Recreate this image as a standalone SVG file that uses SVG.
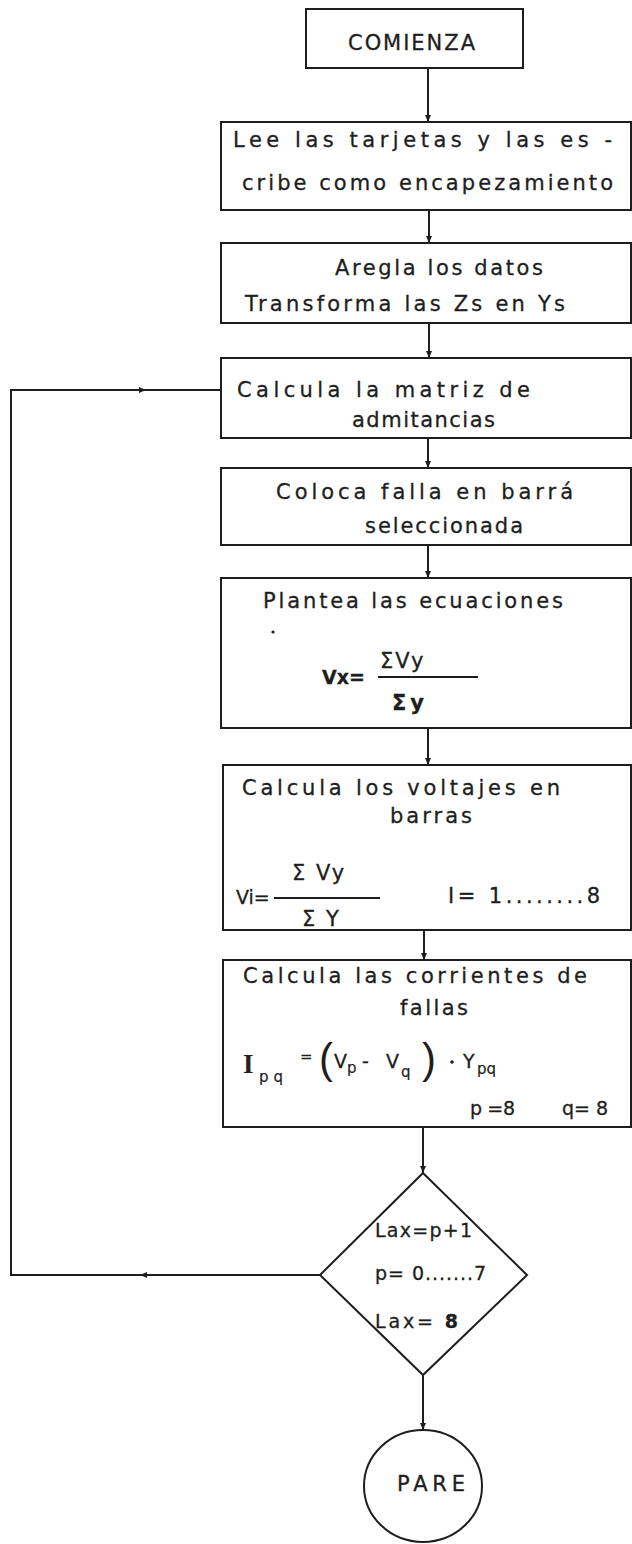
<svg xmlns="http://www.w3.org/2000/svg" width="632" height="1544" viewBox="0 0 632 1544">
<style>
.box{fill:none;stroke:#1e1e1e;stroke-width:2}
.ln{fill:none;stroke:#1e1e1e;stroke-width:2}
.t{font-family:"DejaVu Sans","Liberation Sans",sans-serif;font-size:21px;fill:#1e1e1e;stroke:#1e1e1e;stroke-width:0.3}
.m{font-family:"DejaVu Sans","Liberation Sans",sans-serif;font-size:19px;fill:#1e1e1e;stroke:#1e1e1e;stroke-width:0.3}
.s{font-family:"DejaVu Sans","Liberation Sans",sans-serif;font-size:15px;fill:#1e1e1e;stroke:#1e1e1e;stroke-width:0.2}
.big{font-family:"Liberation Serif","DejaVu Serif",serif;font-size:27px;font-weight:bold;fill:#1e1e1e}
.par{font-family:"Liberation Sans","DejaVu Sans",sans-serif;font-size:42px;fill:#1e1e1e}
</style>
<defs>
<marker id="ah" markerWidth="8" markerHeight="8" refX="7" refY="4" orient="auto" markerUnits="userSpaceOnUse">
<path d="M0,1 L7,4 L0,7 Z" fill="#1e1e1e"/>
</marker>
</defs>
<rect width="632" height="1544" fill="#ffffff"/>
<g id="connectors">
<line class="ln" x1="428" y1="68" x2="428" y2="122" marker-end="url(#ah)"/>
<line class="ln" x1="429" y1="210" x2="429" y2="243" marker-end="url(#ah)"/>
<line class="ln" x1="429" y1="323" x2="429" y2="358" marker-end="url(#ah)"/>
<line class="ln" x1="428" y1="438" x2="428" y2="468" marker-end="url(#ah)"/>
<line class="ln" x1="428" y1="545" x2="428" y2="578" marker-end="url(#ah)"/>
<line class="ln" x1="428" y1="728" x2="428" y2="765" marker-end="url(#ah)"/>
<line class="ln" x1="424" y1="930" x2="424" y2="960" marker-end="url(#ah)"/>
<line class="ln" x1="423" y1="1127" x2="423" y2="1173" marker-end="url(#ah)"/>
<line class="ln" x1="423" y1="1375" x2="423" y2="1430" marker-end="url(#ah)"/>
<path class="ln" d="M320,1275 L140,1275" marker-end="url(#ah)"/>
<path class="ln" d="M142,1275 L11,1275 L11,390 L146,390" marker-end="url(#ah)"/>
<path class="ln" d="M144,390 L221,390"/>
</g>
<g id="n-comienza">
<rect class="box" x="306" y="9" width="217" height="59"/>
<text class="t" x="348" y="50" textLength="127" lengthAdjust="spacing">COMIENZA</text>
</g>
<g id="n-lee">
<rect class="box" x="221" y="122" width="410" height="88"/>
<text class="t" x="233" y="147" textLength="379" lengthAdjust="spacing">Lee las tarjetas y las es -</text>
<text class="t" x="242" y="190" textLength="371" lengthAdjust="spacing">cribe como encapezamiento</text>
</g>
<g id="n-aregla">
<rect class="box" x="221" y="243" width="410" height="80"/>
<text class="t" x="335" y="275" textLength="208" lengthAdjust="spacing">Aregla los datos</text>
<text class="t" x="245" y="311" textLength="320" lengthAdjust="spacing">Transforma las Zs en Ys</text>
</g>
<g id="n-matriz">
<rect class="box" x="221" y="358" width="410" height="80"/>
<text class="t" x="237" y="397" textLength="293" lengthAdjust="spacing">Calcula la matriz de</text>
<text class="t" x="352" y="427" textLength="143" lengthAdjust="spacing">admitancias</text>
</g>
<g id="n-falla">
<rect class="box" x="221" y="468" width="410" height="77"/>
<text class="t" x="276" y="499" textLength="297" lengthAdjust="spacing">Coloca falla en barrá</text>
<text class="t" x="365" y="533" textLength="158" lengthAdjust="spacing">seleccionada</text>
</g>
<g id="n-ecuaciones">
<rect class="box" x="221" y="578" width="410" height="150"/>
<text class="t" x="263" y="608" textLength="300" lengthAdjust="spacing">Plantea las ecuaciones</text>
<circle cx="273" cy="632" r="1.6" fill="#1e1e1e"/>
<text class="m" x="322" y="684" font-weight="bold">Vx=</text>
<text class="t" x="380" y="668" font-size="24" letter-spacing="2">ΣVy</text>
<line class="ln" x1="378" y1="677" x2="478" y2="677" stroke-width="1.5"/>
<text class="t" x="392" y="710" font-size="24" font-weight="bold" letter-spacing="4">Σy</text>
</g>
<g id="n-voltajes">
<rect class="box" x="223" y="765" width="408" height="165"/>
<text class="t" x="242" y="795" textLength="318" lengthAdjust="spacing">Calcula los voltajes en</text>
<text class="t" x="390" y="823" textLength="82" lengthAdjust="spacing">barras</text>
<text class="t" x="292" y="880" font-size="22" letter-spacing="2">Σ Vy</text>
<text class="m" x="236" y="904" font-size="17">Vi=</text>
<line class="ln" x1="274" y1="898" x2="380" y2="898" stroke-width="1.5"/>
<text class="t" x="302" y="926" font-size="21" letter-spacing="2">Σ Y</text>
<text class="t" x="448" y="903" textLength="152" lengthAdjust="spacing">I= 1........8</text>
</g>
<g id="n-corrientes">
<rect class="box" x="223" y="960" width="408" height="167"/>
<text class="t" x="243" y="983" textLength="344" lengthAdjust="spacing">Calcula las corrientes de</text>
<text class="t" x="400" y="1015" textLength="68" lengthAdjust="spacing">fallas</text>
<text class="big" x="243" y="1073">I</text>
<text class="s" x="259" y="1082" font-size="18" letter-spacing="5">pq</text>
<text class="s" x="300" y="1062" font-size="16">=</text>
<text class="par" x="319" y="1073">(</text>
<text class="m" x="334" y="1068">V</text>
<text class="s" x="347" y="1073">p</text>
<text class="m" x="362" y="1068">-</text>
<text class="m" x="386" y="1068">V</text>
<text class="s" x="401" y="1077">q</text>
<text class="par" x="422" y="1073">)</text>
<circle cx="452" cy="1062" r="1.8" fill="#1e1e1e"/>
<text class="m" x="463" y="1068">Y</text>
<text class="s" x="477" y="1074" font-size="17">pq</text>
<text class="m" x="470" y="1115" textLength="45" lengthAdjust="spacing">p =8</text>
<text class="m" x="562" y="1115" textLength="46" lengthAdjust="spacing">q= 8</text>
</g>
<g id="n-decision">
<polygon class="box" points="423,1173 527,1275 423,1375 320,1275"/>
<text class="m" x="375" y="1237" textLength="97" lengthAdjust="spacing">Lax=p+1</text>
<text class="m" x="375" y="1280" textLength="111" lengthAdjust="spacing">p= 0.......7</text>
<text class="m" x="375" y="1328" textLength="83" lengthAdjust="spacing">Lax= <tspan font-weight="bold">8</tspan></text>
</g>
<g id="n-pare">
<ellipse class="box" cx="423" cy="1486" rx="59" ry="56"/>
<text class="t" x="397" y="1491" textLength="68" lengthAdjust="spacing">PARE</text>
</g>
</svg>
